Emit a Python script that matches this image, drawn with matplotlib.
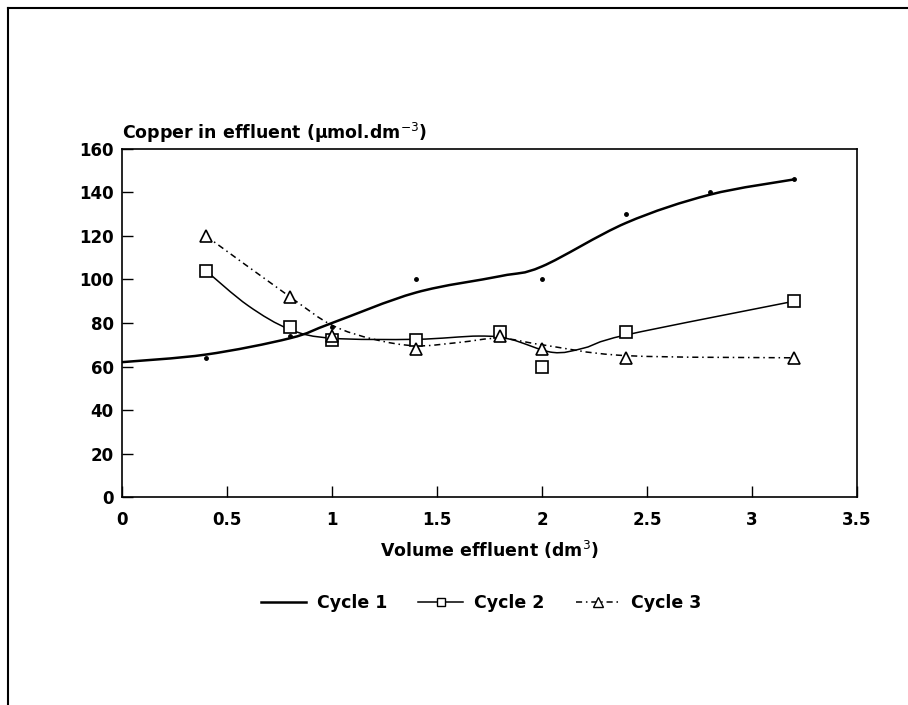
import numpy as np
import matplotlib
matplotlib.use("Agg")
import matplotlib.pyplot as plt
from matplotlib.path import Path
from matplotlib.patches import PathPatch
from matplotlib.lines import Line2D

plt.rcParams['font.family'] = ['DejaVu Sans']

# Measured points
x1 = [0.4, 0.8, 1.0, 1.4, 2.0, 2.4, 2.8, 3.2]
y1 = [64, 74, 78, 100, 100, 130, 140, 146]
x2 = [0.4, 0.8, 1.0, 1.4, 1.8, 2.0, 2.4, 3.2]
y2 = [104, 78, 72, 72, 76, 60, 76, 90]
x3 = [0.4, 0.8, 1.0, 1.4, 1.8, 2.0, 2.4, 3.2]
y3 = [120, 92, 74, 68, 74, 68, 64, 64]

# Smoothed curve knots
cx1 = [0.0, 0.4, 0.8, 1.0, 1.4, 1.8, 2.0, 2.4, 2.8, 3.2]
cy1 = [62, 65.5, 73, 80, 94, 101.5, 106, 126, 139, 146]
cx2 = [0.4, 0.6, 0.8, 1.0, 1.4, 1.7, 1.85, 2.05, 2.2, 2.4, 3.2]
cy2 = [104, 88, 77, 73, 72.5, 74, 72.5, 66.5, 68.5, 74.5, 90]
cx3 = [0.4, 0.8, 1.0, 1.2, 1.4, 1.6, 1.8, 2.0, 2.4, 3.2]
cy3 = [120, 92, 79, 72.5, 69.5, 71, 73, 70, 65, 64]

x_ticks = [0, 0.5, 1, 1.5, 2, 2.5, 3, 3.5]
x_tick_labels = ['0', '0.5', '1', '1.5', '2', '2.5', '3', '3.5']
y_ticks = [0, 20, 40, 60, 80, 100, 120, 140, 160]
labels = ['Cycle 1', 'Cycle 2', 'Cycle 3']


def smooth_path(xs, ys):
    xs = np.asarray(xs, float)
    ys = np.asarray(ys, float)
    pts = np.column_stack([xs, ys])
    n = len(pts)
    verts = [pts[0]]
    codes = [Path.MOVETO]
    for i in range(n - 1):
        p0 = pts[i - 1] if i > 0 else pts[i]
        p1 = pts[i]
        p2 = pts[i + 1]
        p3 = pts[i + 2] if i + 2 < n else pts[i + 1]
        c1 = p1 + (p2 - p0) / 6.0
        c2 = p2 - (p3 - p1) / 6.0
        verts += [c1, c2, p2]
        codes += [Path.CURVE4] * 3
    return Path(verts, codes)


FS = 12
LFS = 12.5
fig = plt.figure(figsize=(9.08, 7.05), dpi=100)
ax = fig.add_axes([0.1344, 0.295, 0.8094, 0.4937])

dash3 = (0, (4, 2.5, 1, 2.5))

ax.add_patch(PathPatch(smooth_path(cx1, cy1), fill=False, lw=1.8, color='black',
                       transform=ax.transData))
ax.add_patch(PathPatch(smooth_path(cx2, cy2), fill=False, lw=1.1, color='black',
                       transform=ax.transData))
ax.add_patch(PathPatch(smooth_path(cx3, cy3), fill=False, lw=1.1, color='black',
                       linestyle=dash3, transform=ax.transData))

ax.plot(x1, y1, linestyle='none', marker='o', ms=2.5, color='black')
ax.plot(x2, y2, linestyle='none', marker='s', ms=8, mfc='white', mec='black', mew=1.2)
ax.plot(x3, y3, linestyle='none', marker='^', ms=9, mfc='white', mec='black', mew=1.2)

ax.set_xlim(0, 3.5)
ax.set_ylim(0, 160)
ax.set_xticks(x_ticks)
ax.set_xticklabels(x_tick_labels)
ax.set_yticks(y_ticks)
ax.tick_params(direction='in', length=8, width=1, labelsize=FS)
ax.tick_params(axis='y', pad=6)
ax.tick_params(axis='x', pad=10)
for lab in ax.get_xticklabels() + ax.get_yticklabels():
    lab.set_fontweight('bold')
for s in ax.spines.values():
    s.set_linewidth(1.2)

ax.text(0.0, 1.012, 'Copper in effluent (\u03bcmol.dm$^{-3}$)', transform=ax.transAxes,
        ha='left', va='bottom', fontsize=LFS, fontweight='bold')
fig.text(0.5 * (0.1344 + 0.9438), 1 - 550 / 705, 'Volume effluent (dm$^{3}$)',
         ha='center', va='center', fontsize=LFS, fontweight='bold')

handles = [
    Line2D([], [], color='black', lw=1.8),
    Line2D([], [], color='black', lw=1.1, marker='s', ms=6, mfc='white', mec='black'),
    Line2D([], [], color='black', lw=1.1, linestyle=dash3, marker='^', ms=7, mfc='white', mec='black'),
]
leg = fig.legend(handles, labels, loc='center', bbox_to_anchor=(0.53, 1 - 603 / 705),
                 ncol=3, frameon=False, handlelength=2.6, columnspacing=1.8,
                 handletextpad=0.6, prop={'weight': 'bold', 'size': LFS})

# outer frame (left and top)
fig.add_artist(Line2D([8 / 908, 8 / 908], [0, 1 - 8 / 705], color='black', lw=1.5,
                      transform=fig.transFigure))
fig.add_artist(Line2D([8 / 908, 1], [1 - 8 / 705, 1 - 8 / 705], color='black', lw=1.5,
                      transform=fig.transFigure))

fig.savefig('out.png', dpi=100)
